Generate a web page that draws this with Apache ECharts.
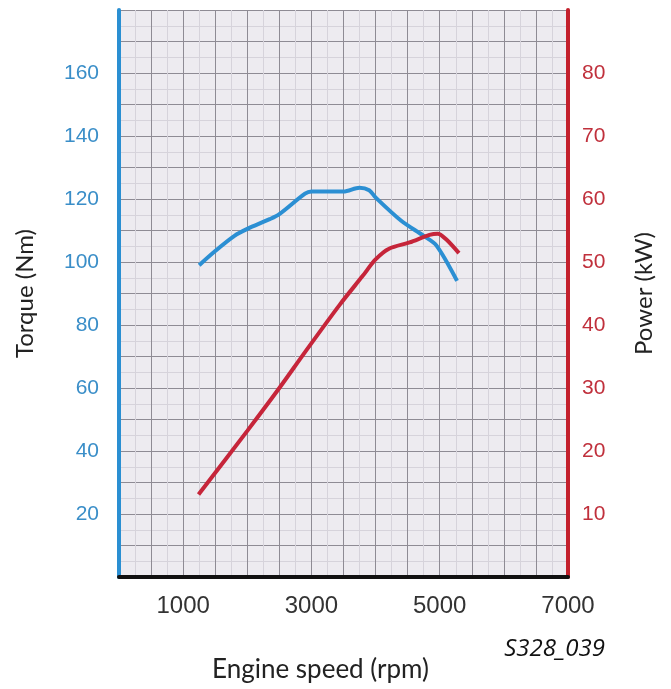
<!DOCTYPE html>
<html>
<head>
<meta charset="utf-8">
<script src="https://cdn.jsdelivr.net/npm/echarts@6/dist/echarts.min.js"></script>
<style>
  html, body { margin: 0; padding: 0; background: #fff; }
  #chart { width: 671px; height: 689px; }
</style>
</head>
<body>
<div id="chart"></div>
<script>
// torque curve (Nm) against engine speed
var torqueRpm = [1250, 1500, 1800, 2000, 2350, 2500, 2900, 3000, 3500, 3750, 3900, 4000, 4400, 4750, 4950, 5270]
var torqueNm = [99, 103.5, 108.3, 110.5, 113.6, 115.2, 121.7, 122.4, 122.4, 123.6, 122.8, 120.5, 113.1, 108.3, 105.2, 94]

// power curve (kW) against engine speed
var powerRpm = [1240, 2000, 2500, 2900, 3440, 3800, 4000, 4210, 4530, 4840, 4970, 5100, 5300]
var powerKw = [13.1, 23.2, 30.0, 35.7, 43.2, 47.8, 50.4, 52.1, 53.1, 54.3, 54.5, 53.6, 51.4]

var xLabels = [1000, 3000, 5000, 7000]
var torqueLabels = [20, 40, 60, 80, 100, 120, 140, 160]
var powerLabels = [10, 20, 30, 40, 50, 60, 70, 80]

function pairs(xs, ys) {
  return xs.map(function (x, i) { return [x, ys[i]] })
}

var chart = echarts.init(document.getElementById('chart'))
var option = {
  backgroundColor: '#fff',
  animation: false,
  grid: {
    left: 119,
    right: 103,
    top: 10,
    bottom: 112,
    show: true,
    backgroundColor: '#edebf0',
    borderWidth: 0
  },
  graphic: [
    {
      type: 'text',
      right: 66,
      top: 637,
      style: {
        text: 'S328_039',
        fill: '#111',
        font: 'italic 24px "Open Sans"'
      }
    }
  ],
  xAxis: {
    type: 'value',
    min: 0,
    max: 7000,
    interval: 500,
    name: 'Engine speed (rpm)',
    nameLocation: 'middle',
    nameGap: 80,
    nameTextStyle: { color: '#222', fontSize: 26, fontFamily: 'Lato', padding: [0, 46, 0, 0] },
    axisLine: { lineStyle: { color: '#111', width: 4 } },
    axisTick: { show: false },
    axisLabel: {
      margin: 17,
      color: '#333',
      fontSize: 24,
      fontFamily: 'Liberation Sans',
      formatter: function (v) { return xLabels.indexOf(v) >= 0 ? String(v) : '' }
    },
    splitLine: { show: true, lineStyle: { color: '#8e8b94', width: 1 } },
    minorTick: { show: false, splitNumber: 2 },
    minorSplitLine: { show: true, lineStyle: { color: '#d6d3db', width: 1 } }
  },
  yAxis: [
    {
      type: 'value',
      min: 0,
      max: 180,
      interval: 10,
      name: 'Torque (Nm)',
      nameLocation: 'middle',
      nameRotate: 90,
      nameGap: 82,
      nameTextStyle: { color: '#222', fontSize: 24, fontFamily: 'Lato' },
      axisLine: { show: true, lineStyle: { color: '#2a8fd2', width: 4 } },
      axisTick: { show: false },
      axisLabel: {
        margin: 20,
        color: '#3a8ec8',
        fontSize: 21,
        fontFamily: 'Liberation Sans',
        formatter: function (v) { return torqueLabels.indexOf(v) >= 0 ? String(v) : '' }
      },
      splitLine: { show: true, lineStyle: { color: '#8e8b94', width: 1 } },
      minorTick: { show: false, splitNumber: 2 },
      minorSplitLine: { show: true, lineStyle: { color: '#d6d3db', width: 1 } }
    },
    {
      type: 'value',
      min: 0,
      max: 90,
      interval: 5,
      position: 'right',
      name: 'Power (kW)',
      nameLocation: 'middle',
      nameRotate: 90,
      nameGap: 64,
      nameTextStyle: { color: '#222', fontSize: 24, fontFamily: 'Lato' },
      axisLine: { show: true, lineStyle: { color: '#c3202c', width: 4 } },
      axisTick: { show: false },
      axisLabel: {
        margin: 14,
        color: '#c0303c',
        fontSize: 21,
        fontFamily: 'Liberation Sans',
        formatter: function (v) { return powerLabels.indexOf(v) >= 0 ? String(v) : '' }
      },
      splitLine: { show: false }
    }
  ],
  series: [
    {
      type: 'line',
      name: 'Torque',
      yAxisIndex: 0,
      data: pairs(torqueRpm, torqueNm),
      smooth: 0.3,
      showSymbol: false,
      lineStyle: { color: '#2b8fd3', width: 4 },
      z: 3
    },
    {
      type: 'line',
      name: 'Power',
      yAxisIndex: 1,
      data: pairs(powerRpm, powerKw),
      smooth: 0.3,
      showSymbol: false,
      lineStyle: { color: '#c6253a', width: 4 },
      z: 4
    }
  ]
}
chart.setOption(option)
</script>
</body>
</html>
